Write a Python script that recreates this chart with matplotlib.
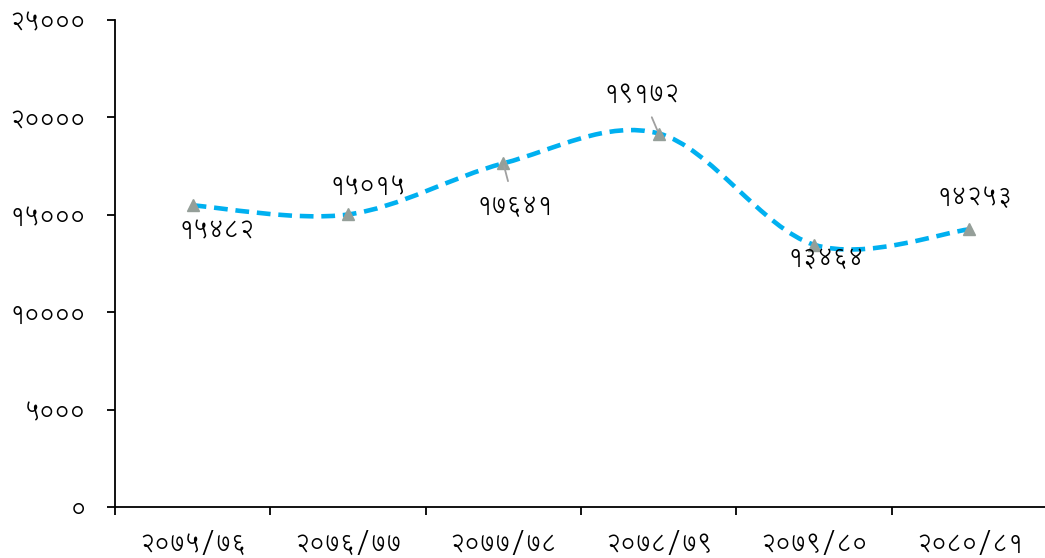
import matplotlib
matplotlib.use("Agg")
import matplotlib.pyplot as plt
from matplotlib.path import Path
from matplotlib.patches import PathPatch
from matplotlib.ticker import FuncFormatter, FixedLocator

plt.rcParams["font.family"] = ["Lohit Devanagari", "DejaVu Sans"]

# fiscal years (Nepali calendar) and values
years = ["२०७५/७६", "२०७६/७७", "२०७७/७८", "२०७८/७९", "२०७९/८०", "२०८०/८१"]
values = [15482, 15015, 17641, 19172, 13464, 14253]

# label offsets in pixels relative to each point, and whether to draw a leader line
label_offsets = [(24, -25), (20, 29), (11, -42), (-17, 40), (12, -13), (5, 32)]
leaders = [False, False, True, True, False, False]

DEV = str.maketrans("0123456789", "०१२३४५६७८९")


def dev(n):
    return str(int(n)).translate(DEV)


def smooth_path(xs, ys):
    """Excel-style smoothed line as cubic Bezier segments."""
    pts = list(zip(xs, ys))
    n = len(pts)
    verts = [pts[0]]
    codes = [Path.MOVETO]
    for i in range(n - 1):
        p0 = pts[max(i - 1, 0)]
        p1 = pts[i]
        p2 = pts[i + 1]
        p3 = pts[min(i + 2, n - 1)]
        c1 = (p1[0] + (p2[0] - p0[0]) / 6, p1[1] + (p2[1] - p0[1]) / 6)
        c2 = (p2[0] - (p3[0] - p1[0]) / 6, p2[1] - (p3[1] - p1[1]) / 6)
        verts += [c1, c2, p2]
        codes += [Path.CURVE4] * 3
    return Path(verts, codes)


fig = plt.figure(figsize=(10.45, 5.58), dpi=100)
ax = fig.add_axes([0.110, 0.0914, 0.892, 0.8728])

x = list(range(len(years)))
line = PathPatch(smooth_path(x, values), fill=False, edgecolor="#00B0F0",
                 linewidth=3.3, linestyle=(0, (3.0, 1.7)), capstyle="butt", zorder=2)
ax.add_patch(line)
ax.plot(x, values, linestyle="none", marker="^", markersize=9,
        color="#959F99", zorder=3)

for xi, v, off, lead in zip(x, values, label_offsets, leaders):
    props = dict(arrowstyle="-", color="#A0A0A0", lw=1.3, shrinkA=7, shrinkB=2) if lead else None
    ax.annotate(dev(v), xy=(xi, v), xytext=off, textcoords="offset pixels",
                ha="center", va="center", fontsize=17, color="black",
                arrowprops=props, zorder=4)

ax.set_xlim(-0.5, len(years) - 0.5)
ax.set_ylim(0, 25000)
ax.yaxis.set_major_locator(FixedLocator(range(0, 25001, 5000)))
ax.yaxis.set_major_formatter(FuncFormatter(lambda v, p: dev(v)))

# ticks at category boundaries, labels at category centres
ax.set_xticks([i - 0.5 for i in range(len(years))])
ax.set_xticklabels([])
ax.set_xticks(x, minor=True)
ax.set_xticklabels(years, minor=True)
ax.tick_params(axis="x", which="major", length=6, width=1.3, direction="out")
ax.tick_params(axis="x", which="minor", length=0, pad=17, labelsize=17)
ax.tick_params(axis="y", length=6, width=1.3, direction="out", pad=15, labelsize=17)

for side in ["top", "right"]:
    ax.spines[side].set_visible(False)
for side in ["left", "bottom"]:
    ax.spines[side].set_linewidth(1.3)

fig.savefig("out.png", dpi=100)
